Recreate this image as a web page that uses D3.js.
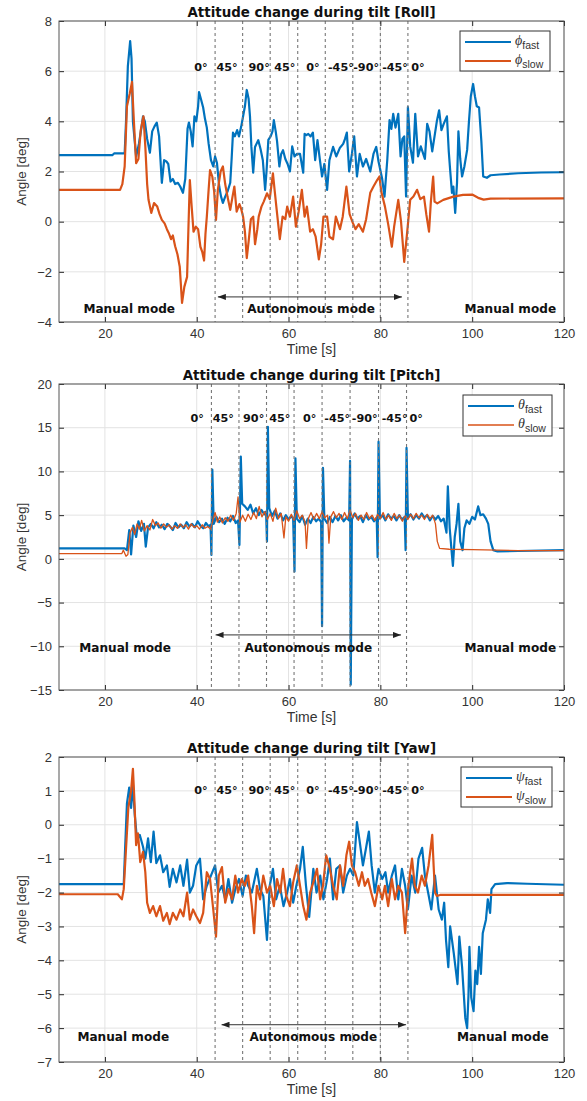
<!DOCTYPE html>
<html>
<head>
<meta charset="utf-8">
<script src="https://cdn.jsdelivr.net/npm/d3@7"></script>
<style>
  body { margin: 0; background: #fff; }
  svg { display: block; }
</style>
</head>
<body>
<svg id="chart"></svg>
<script>
// ---- data (time [s], angle [deg]) ----
const xTicks = [20, 40, 60, 80, 100, 120];
const angleLabels = ['0°', '45°', '90°', '45°', '0°', '-45°', '-90°', '-45°', '0°'];
const modeLabels = ['Manual mode', 'Autonomous mode', 'Manual mode'];

// roll
const rollTicks = [-4, -2, 0, 2, 4, 6, 8];
const rollSwitch = [44, 50, 56, 62, 68, 74, 80, 86];
const rollLabelT = [40.9, 46.6, 53.6, 59.2, 65.3, 71.4, 76.9, 83.2, 88.2];
const rollFast = [[10,2.65],[21.6,2.65],[22,2.72],[24.3,2.72],[24.6,4.0],[25,6.2],[25.5,7.2],[25.8,6.5],[26.1,4.0],[26.5,3.2],[26.8,2.6],[27.4,3.1],[28,3.8],[28.3,4.2],[28.7,4.0],[29.2,3.3],[29.8,2.75],[30.3,3.6],[30.8,3.8],[31.3,3.95],[31.8,3.4],[32.4,1.55],[32.9,2.45],[33.4,2.4],[33.8,2.3],[34.3,1.6],[34.8,1.7],[35.3,1.5],[35.9,1.55],[36.4,1.4],[37,1.15],[37.5,1.7],[38,3.7],[38.3,3.95],[38.7,3.6],[39.1,3.0],[39.5,4.2],[39.9,4.0],[40.3,4.6],[40.5,5.17],[40.9,4.9],[41.4,4.55],[41.8,4.1],[42.2,3.75],[42.6,3.1],[43.1,2.45],[43.6,2.2],[44,2.6],[44.4,2.35],[44.9,1.4],[45.3,1.0],[45.7,0.75],[46.2,1.0],[46.7,1.2],[47.3,1.55],[47.6,2.5],[47.9,3.55],[48.3,3.4],[48.8,3.65],[49.2,3.4],[49.7,3.8],[50.1,4.2],[50.5,4.6],[50.9,5.25],[51.3,4.9],[51.6,4.2],[51.9,3.0],[52.3,1.95],[52.7,2.98],[53.4,3.25],[53.9,2.9],[54.4,2.45],[54.9,1.27],[55.2,2.0],[55.6,3.26],[56.1,3.4],[56.5,3.6],[56.8,4.05],[57.2,3.6],[57.5,3.2],[58,2.2],[58.4,2.7],[58.8,2.85],[59.3,2.5],[59.8,2.3],[60.3,2.0],[60.8,3.0],[61.3,2.6],[61.8,2.7],[62.5,2.7],[63.2,1.95],[63.5,3.5],[63.9,3.45],[64.3,3.5],[64.8,3.4],[65.3,3.55],[65.8,2.45],[66.3,3.25],[66.8,2.5],[67.3,1.8],[67.8,2.3],[68.4,1.27],[68.9,2.45],[69.7,2.98],[70.4,2.6],[71.2,2.95],[71.9,3.1],[72.3,3.3],[72.7,3.55],[73.2,2.0],[73.8,2.7],[74.3,3.4],[74.9,1.8],[75.5,2.7],[76.2,2.2],[76.9,2.5],[77.8,2.0],[78.5,2.7],[79.1,2.98],[79.6,2.4],[80.4,1.7],[80.9,1.0],[81.5,2.45],[82,4.05],[82.4,3.7],[82.8,4.3],[83.3,3.75],[83.9,4.3],[84.4,2.6],[84.8,3.3],[85.2,3.4],[85.6,1.0],[86,4.57],[86.5,3.0],[87.1,2.35],[87.6,4.3],[88.2,2.6],[88.8,3.0],[89.7,2.5],[90.2,3.9],[90.7,3.6],[91.3,2.8],[91.8,3.4],[92.3,4.0],[92.8,4.44],[93.3,3.65],[93.8,3.9],[94.5,4.2],[94.9,2.8],[95.2,2.06],[95.6,1.15],[95.9,1.4],[96.3,0.35],[96.7,1.55],[97,3.6],[97.4,2.5],[97.8,1.8],[98.3,2.2],[98.9,2.86],[99.3,4.0],[99.7,5.0],[100.2,5.49],[100.6,5.0],[101,4.6],[101.5,4.55],[102,3.2],[102.4,1.8],[103.2,1.75],[104,1.85],[106,1.88],[110,1.93],[115,1.96],[120,1.97]];
const rollSlow = [[10,1.27],[23.3,1.27],[23.8,1.5],[24.3,2.2],[24.8,4.6],[25.4,5.1],[25.9,5.57],[26.3,4.05],[26.8,2.33],[27.3,2.5],[27.8,3.65],[28.4,4.2],[28.8,3.0],[29.2,1.5],[29.5,0.87],[30.1,0.35],[30.7,0.74],[31.4,0.6],[31.9,0.3],[32.4,0.07],[33,-0.07],[33.5,-0.3],[33.9,-0.45],[34.4,-0.7],[34.8,-0.55],[35.3,-0.98],[35.8,-1.3],[36.3,-1.8],[36.8,-3.24],[37.3,-2.6],[37.9,-2.2],[38.2,-0.2],[38.5,1.66],[38.9,0.6],[39.3,-0.4],[39.8,-0.2],[40.3,-0.3],[40.8,-1.0],[41.2,-1.2],[41.6,-1.55],[41.9,-0.5],[42.2,0.2],[42.6,1.3],[42.9,2.06],[43.4,1.8],[43.8,1.2],[44.2,0.07],[44.6,1.27],[45.2,2.0],[45.7,2.2],[46.2,1.5],[46.7,1.0],[47.3,0.47],[47.8,1.0],[48.2,1.4],[48.7,0.4],[49.3,0.7],[49.7,0.5],[50.1,0.2],[50.5,-0.4],[50.9,-1.45],[51.3,-0.8],[51.8,0.1],[52.3,0.2],[52.7,-0.9],[53.2,-0.3],[53.5,0.2],[54.1,0.6],[54.6,0.8],[55.3,1.13],[55.9,0.9],[56.6,1.93],[57,1.2],[57.4,0.5],[58.1,-0.7],[58.7,0.2],[59.3,0.1],[59.7,0.6],[60.3,0.2],[61,1.0],[61.6,-0.2],[62.2,0.4],[62.9,1.27],[63.5,0.2],[64,0.6],[64.7,-0.4],[65.3,-0.3],[65.9,-0.6],[66.6,-1.5],[67.1,-0.9],[67.6,0.2],[68.4,0.2],[68.9,-0.6],[69.7,-0.7],[70.3,0.2],[71.2,-0.3],[71.8,0.2],[72.6,1.4],[73.3,0.3],[74,-0.05],[74.6,-0.3],[75.3,-0.1],[76.2,-0.4],[76.9,0.1],[77.8,1.15],[78.5,1.4],[79.3,1.66],[79.8,1.8],[80.2,1.2],[81,0.6],[81.7,-0.1],[82.5,-1.0],[83,-0.2],[83.9,0.87],[84.5,0.0],[85.2,-1.6],[85.8,-0.5],[86.5,0.87],[87.2,1.0],[88,1.27],[88.7,0.9],[89.5,1.0],[90,0.3],[90.6,-0.4],[91,0.8],[91.5,1.8],[91.8,0.8],[92.4,0.73],[93.7,0.87],[95.9,1.0],[98,1.07],[100,1.08],[101.3,0.95],[102.5,0.88],[104,0.92],[120,0.93]];

// pitch
const pitchTicks = [-15, -10, -5, 0, 5, 10, 15, 20];
const pitchSwitch = [43.2, 49.2, 55.2, 61.2, 67.3, 73.4, 79.6, 85.7];
const pitchLabelT = [40.1, 45.8, 52.4, 58.1, 64.6, 70.6, 76.6, 83.1, 87.8];
const pitchFast = [[10,1.2],[24.3,1.2],[24.8,1.0],[25.3,3.3],[25.7,0.5],[26.2,3.8],[26.8,2.5],[27.3,4.3],[27.9,3.2],[28.5,4.0],[28.9,1.4],[29.4,3.6],[30,4.0],[30.6,3.5],[31.2,4.2],[31.8,3.6],[32.4,3.9],[33,3.4],[33.6,4.0],[34.2,3.7],[34.8,3.3],[35.4,4.1],[36,3.6],[36.6,3.9],[37.2,3.5],[37.8,4.2],[38.4,3.7],[39,4.0],[39.6,3.6],[40.2,4.3],[40.8,3.8],[41.4,3.5],[42,4.1],[42.6,3.7],[43,3.9],[43.2,0.45],[43.4,10.2],[43.7,4.0],[44.3,4.8],[44.9,4.2],[45.5,4.6],[46.1,4.0],[46.7,4.7],[47.3,4.3],[47.9,4.9],[48.5,4.1],[49,4.4],[49.3,1.6],[49.6,11.7],[49.9,6.3],[50.5,6.0],[51.1,5.6],[51.7,6.2],[52.3,5.2],[52.9,5.8],[53.5,5.0],[54.1,5.6],[54.7,5.1],[55.1,5.4],[55.3,2.0],[55.5,15.1],[55.8,5.8],[56.4,4.9],[57,5.5],[57.6,4.6],[58.2,5.2],[58.8,4.4],[59.4,5.0],[60,4.5],[60.6,4.9],[61,4.6],[61.3,-1.45],[61.5,11.5],[61.8,4.6],[62.4,4.2],[63,4.9],[63.6,3.9],[64.2,4.6],[64.8,4.1],[65.4,4.8],[66,4.3],[66.6,4.6],[67.1,4.2],[67.3,-7.7],[67.5,10.4],[67.8,4.6],[68.4,4.1],[69,4.8],[69.6,4.2],[70.2,4.9],[70.8,4.4],[71.4,5.0],[72,4.3],[72.6,4.7],[73.2,4.4],[73.4,11.2],[73.55,-14.4],[73.8,4.5],[74.4,5.2],[75,4.6],[75.6,4.9],[76.2,4.2],[76.8,5.0],[77.4,4.5],[78,4.8],[78.6,4.3],[79.2,4.7],[79.4,0.2],[79.6,13.4],[79.9,4.6],[80.5,5.0],[81.1,4.4],[81.7,5.1],[82.3,4.6],[82.9,4.9],[83.5,4.4],[84.1,5.0],[84.7,4.5],[85.3,4.8],[85.5,1.0],[85.7,12.7],[86,4.7],[86.6,5.1],[87.2,4.5],[87.8,5.0],[88.4,4.6],[89,5.2],[89.6,4.7],[90.2,5.0],[90.8,4.4],[91.4,4.9],[92,4.5],[92.6,4.9],[93.2,4.3],[93.8,4.6],[94.4,3.0],[94.7,8.3],[95.1,3.5],[95.5,1.0],[95.8,-0.8],[96.2,2.5],[96.6,4.0],[97,6.3],[97.4,2.0],[97.9,1.0],[98.3,3.5],[98.8,4.4],[99.4,4.0],[100,4.8],[100.6,4.5],[101.3,6.0],[101.8,5.0],[102.4,5.1],[103,4.6],[103.5,4.0],[104,2.0],[104.6,1.0],[105.5,0.85],[110,0.9],[120,1.0]];
const pitchSlow = [[10,0.6],[23.7,0.6],[24,1.0],[24.6,0.3],[25,0.5],[25.5,3.0],[26,3.6],[26.5,2.8],[27,4.0],[27.5,3.4],[28,4.4],[28.6,3.2],[29.2,3.8],[29.8,3.3],[30.4,4.5],[31,3.8],[31.6,4.1],[32.2,3.5],[32.8,4.0],[33.4,3.6],[34,3.9],[34.6,3.4],[35.2,3.8],[35.8,3.5],[36.4,4.0],[37,3.6],[37.6,3.9],[38.2,3.4],[38.8,4.0],[39.4,3.6],[40,3.8],[40.6,3.4],[41.2,3.9],[41.8,3.5],[42.4,3.7],[43,3.4],[43.6,4.6],[44,5.3],[44.5,4.2],[45,4.8],[45.6,4.1],[46.2,4.7],[46.8,4.3],[47.4,5.0],[48,4.4],[48.6,5.2],[49,7.1],[49.4,4.2],[50,5.0],[50.6,4.3],[51.2,5.1],[51.8,4.5],[52.4,5.3],[53,4.6],[53.6,6.0],[54.2,4.8],[54.8,5.4],[55.4,4.5],[56,5.2],[56.6,4.3],[57.2,5.8],[57.8,4.6],[58.4,5.2],[59,2.4],[59.4,4.8],[60,4.3],[60.6,5.1],[61.2,4.4],[61.8,5.5],[62.4,4.6],[63,5.0],[63.6,4.2],[63.9,1.2],[64.3,4.6],[64.9,5.3],[65.5,4.5],[66.1,5.2],[66.7,4.6],[67.3,5.4],[67.9,4.7],[68.5,5.0],[68.8,1.8],[69.2,4.8],[69.8,5.4],[70.4,4.7],[71,5.2],[71.6,4.5],[72.2,5.3],[72.8,4.6],[73.4,5.6],[74,4.7],[74.6,5.2],[75.2,4.4],[75.8,5.0],[76.4,4.5],[77,5.3],[77.6,4.6],[78.2,5.0],[78.8,4.4],[79.4,5.1],[80,4.6],[80.6,5.3],[81.2,4.5],[81.8,5.0],[82.4,4.4],[83,5.2],[83.6,4.6],[84.2,5.0],[84.8,4.3],[85.4,4.9],[86,4.5],[86.6,5.1],[87.2,4.6],[87.8,5.2],[88.4,4.7],[89,5.0],[89.6,4.5],[90.2,5.1],[90.8,4.6],[91.4,5.0],[92,4.0],[92.4,2.0],[92.9,1.2],[95,1.1],[100,1.05],[110,0.95],[120,0.95]];

// yaw
const yawTicks = [-7, -6, -5, -4, -3, -2, -1, 0, 1, 2];
const yawSwitch = [44, 50, 56, 62, 68, 74, 80, 86];
const yawLabelT = [40.9, 46.6, 53.6, 59.2, 65.3, 71.4, 76.9, 83.2, 88.2];
const yawFast = [[10,-1.75],[24.1,-1.75],[24.4,-0.7],[24.8,0.63],[25.3,1.1],[25.7,0.5],[26.1,1.2],[26.5,0.3],[27,-0.45],[27.6,-0.3],[28.3,-0.65],[28.8,-1.0],[29.4,-0.4],[30,-1.1],[30.6,-0.2],[31.2,-1.13],[32,-0.9],[32.7,-1.4],[33.5,-1.2],[34.1,-1.83],[34.8,-1.3],[35.6,-1.7],[36.4,-1.2],[37.1,-1.8],[37.9,-1.03],[38.5,-2.0],[39.2,-1.8],[39.9,-1.2],[40.7,-1.0],[41.4,-2.2],[42.2,-1.8],[43.1,-1.5],[44,-1.2],[44.7,-2.0],[45.5,-1.8],[46.2,-2.2],[46.9,-1.6],[47.7,-2.3],[48.4,-1.9],[49.2,-1.6],[50,-2.1],[50.7,-1.5],[51.2,-1.8],[52,-2.0],[53.1,-1.3],[53.8,-1.9],[54.5,-2.1],[55.3,-3.4],[55.9,-1.8],[56.6,-1.3],[57.3,-2.2],[58.1,-1.8],[58.9,-2.4],[59.7,-2.0],[60.3,-1.6],[61,-2.3],[61.7,-1.8],[62.5,-1.3],[63.1,-0.65],[63.8,-1.8],[64.5,-2.72],[65.4,-1.3],[66.1,-2.0],[66.9,-1.5],[67.6,-2.2],[68.4,-1.6],[69,-1.0],[69.7,-2.2],[70.4,-1.3],[71.2,-1.2],[71.9,-2.0],[72.7,-1.5],[73.4,-1.3],[74.1,-1.5],[74.9,0.08],[75.5,-0.5],[76.2,-1.2],[76.9,-0.67],[77.5,-0.2],[78.1,-1.2],[78.8,-2.0],[79.6,-1.3],[80.4,-1.6],[81.1,-1.4],[81.7,-2.0],[82.5,-1.5],[83.2,-1.2],[83.9,-2.2],[84.7,-1.3],[85.4,-1.8],[86,-2.5],[86.8,-1.5],[87.6,-2.0],[88.3,-1.0],[89.1,-0.68],[89.7,-1.5],[90.4,-2.0],[91.1,-2.5],[91.9,-1.5],[92.7,-2.5],[93.4,-2.8],[93.9,-2.3],[94.3,-3.4],[94.8,-4.2],[95.2,-3.0],[96,-3.8],[96.8,-4.7],[97.2,-3.3],[97.8,-4.2],[98.5,-5.7],[98.9,-6.0],[99.2,-5.0],[99.4,-3.6],[99.8,-5.1],[100.3,-5.5],[100.7,-4.3],[101.1,-4.7],[101.5,-3.6],[101.9,-4.4],[102.3,-3.2],[103,-2.8],[103.4,-2.2],[103.9,-2.6],[104.2,-1.9],[105,-1.75],[107.6,-1.72],[112,-1.74],[120,-1.77]];
const yawSlow = [[10,-2.05],[22.8,-2.05],[23.7,-2.2],[24.1,-1.9],[24.6,-0.7],[25.1,0.5],[25.7,1.0],[26.1,1.65],[26.4,0.8],[26.8,-0.6],[27.2,-0.25],[27.7,-1.1],[28.3,-0.8],[28.8,-1.4],[29.2,-2.3],[29.8,-2.6],[30.5,-2.4],[31.2,-2.7],[32,-2.4],[32.7,-2.83],[33.5,-2.6],[34.1,-2.93],[34.8,-2.6],[35.6,-2.8],[36.4,-2.5],[37.1,-2.7],[37.9,-2.0],[38.5,-2.8],[39.2,-2.5],[39.9,-2.7],[40.7,-2.9],[41.4,-2.6],[42.2,-1.4],[42.9,-1.6],[43.6,-2.5],[44.2,-3.3],[44.8,-1.5],[45.5,-1.25],[46.2,-2.3],[46.9,-1.9],[47.7,-2.2],[48.4,-1.5],[49,-2.0],[49.8,-1.6],[50.5,-1.8],[51.2,-1.5],[52,-2.4],[52.5,-3.2],[53.1,-1.8],[53.8,-2.2],[54.5,-1.5],[55.3,-2.0],[56,-1.8],[56.8,-2.4],[57.5,-1.6],[58.2,-2.0],[58.8,-1.3],[59.5,-2.1],[60.3,-2.4],[61,-1.7],[61.8,-1.2],[62.5,-1.8],[63.2,-2.4],[63.9,-2.8],[64.7,-2.0],[65.4,-1.7],[66.2,-1.3],[66.9,-2.2],[67.5,-1.8],[68.2,-0.9],[69,-1.3],[69.7,-1.8],[70.5,-2.2],[71.2,-1.2],[71.9,-1.8],[72.6,-0.9],[73.2,-0.5],[73.8,-1.2],[74.5,-1.4],[75.3,-1.8],[76,-1.4],[76.6,-1.8],[77.3,-1.6],[78,-2.0],[78.8,-2.4],[79.6,-1.8],[80.4,-2.2],[81,-1.8],[81.7,-2.4],[82.5,-1.6],[83.2,-2.2],[83.9,-1.8],[84.7,-2.0],[85.4,-3.2],[86.1,-1.8],[86.9,-1.0],[87.5,-1.8],[88.2,-2.0],[89,-1.5],[89.7,-1.8],[90.5,-1.2],[91.3,-0.3],[91.6,-1.2],[91.9,-2.0],[92.3,-2.1],[93,-2.07],[120,-2.07]];

// ---- layout ----
const W = 587, H = 1101;
const left = 59, right = 564;
const blue = '#0072BD', orange = '#D95319', axisCol = '#262626';

const panels = [
  { name: 'Roll', sym: 'ϕ', top: 21, bottom: 322, yDom: [-4, 8], yTicks: rollTicks,
    fast: rollFast, slow: rollSlow, sw: rollSwitch, labelT: rollLabelT, labelV: 6.0,
    modeT: [25.3, 64.9, 108.3], modeV: -3.64, arrowV: -3, arrowT: [44.6, 84.7],
    leg: { x: 460, y: 31, w: 90, h: 40 }, slowW: 2.2 },
  { name: 'Pitch', sym: 'θ', top: 384, bottom: 690, yDom: [-15, 20], yTicks: pitchTicks,
    fast: pitchFast, slow: pitchSlow, sw: pitchSwitch, labelT: pitchLabelT, labelV: 15.7,
    modeT: [24.4, 64.3, 108.3], modeV: -10.66, arrowV: -8.7, arrowT: [44.1, 84.5],
    leg: { x: 463, y: 395, w: 89, h: 41 }, slowW: 1.3 },
  { name: 'Yaw', sym: 'ψ', top: 757, bottom: 1062, yDom: [-7, 2], yTicks: yawTicks,
    fast: yawFast, slow: yawSlow, sw: yawSwitch, labelT: yawLabelT, labelV: 0.9,
    modeT: [24.0, 65.4, 106.7], modeV: -6.38, arrowV: -5.9, arrowT: [45.4, 85.6],
    leg: { x: 461, y: 767, w: 91, h: 40 }, slowW: 2.2 }
];

const svg = d3.select('#chart').attr('width', W).attr('height', H)
  .style('background', '#fff');

const defs = svg.append('defs');
defs.append('marker')
  .attr('id', 'arrow')
  .attr('viewBox', '0 0 8 6')
  .attr('refX', 8).attr('refY', 3)
  .attr('markerWidth', 8).attr('markerHeight', 6)
  .attr('markerUnits', 'userSpaceOnUse')
  .attr('orient', 'auto-start-reverse')
  .append('path').attr('d', 'M0,0 L8,3 L0,6 Z').attr('fill', '#222');

const x = d3.scaleLinear().domain([10, 120]).range([left, right]);
const bold = '"DejaVu Sans", Verdana, sans-serif';
const plain = '"Liberation Sans", Arial, sans-serif';

panels.forEach((p, i) => {
  const y = d3.scaleLinear().domain(p.yDom).range([p.bottom, p.top]);
  const g = svg.append('g');

  defs.append('clipPath').attr('id', 'clip' + i)
    .append('rect').attr('x', left).attr('y', p.top)
    .attr('width', right - left).attr('height', p.bottom - p.top);

  // grid
  g.selectAll('.gx').data(xTicks).join('line')
    .attr('x1', d => x(d)).attr('x2', d => x(d))
    .attr('y1', p.top).attr('y2', p.bottom)
    .attr('stroke', '#e3e3e3').attr('stroke-width', 1);
  g.selectAll('.gy').data(p.yTicks).join('line')
    .attr('x1', left).attr('x2', right)
    .attr('y1', d => y(d)).attr('y2', d => y(d))
    .attr('stroke', '#e3e3e3').attr('stroke-width', 1);

  // data
  const line = d3.line().x(d => x(d[0])).y(d => y(d[1]));
  const lines = g.append('g').attr('clip-path', `url(#clip${i})`);
  lines.append('path').datum(p.fast)
    .attr('fill', 'none').attr('stroke', blue).attr('stroke-width', 2.2)
    .attr('stroke-linejoin', 'round').attr('d', line);
  lines.append('path').datum(p.slow)
    .attr('fill', 'none').attr('stroke', orange).attr('stroke-width', p.slowW)
    .attr('stroke-linejoin', 'round').attr('d', line);

  // switching instants
  g.selectAll('.sw').data(p.sw).join('line')
    .attr('x1', d => x(d)).attr('x2', d => x(d))
    .attr('y1', p.top).attr('y2', p.bottom)
    .attr('stroke', '#777').attr('stroke-width', 1.1)
    .attr('stroke-dasharray', '3,3');

  // axes (ticks inside, box on)
  const ax = g.append('g').attr('color', axisCol).style('font-family', plain);
  ax.append('g').attr('transform', `translate(0,${p.bottom})`)
    .call(d3.axisBottom(x).tickValues(xTicks).tickSizeInner(-5).tickSizeOuter(0).tickPadding(7))
    .call(a => a.selectAll('text').attr('font-size', 13).attr('fill', '#333'));
  ax.append('g').attr('transform', `translate(0,${p.top})`)
    .call(d3.axisTop(x).tickValues(xTicks).tickSizeInner(-5).tickSizeOuter(0).tickFormat(''));
  ax.append('g').attr('transform', `translate(${left},0)`)
    .call(d3.axisLeft(y).tickValues(p.yTicks).tickSizeInner(-5).tickSizeOuter(0).tickPadding(7))
    .call(a => a.selectAll('text').attr('font-size', 13).attr('fill', '#333'));
  ax.append('g').attr('transform', `translate(${right},0)`)
    .call(d3.axisRight(y).tickValues(p.yTicks).tickSizeInner(-5).tickSizeOuter(0).tickFormat(''));
  ax.selectAll('.domain').remove();
  g.append('rect').attr('x', left).attr('y', p.top)
    .attr('width', right - left).attr('height', p.bottom - p.top)
    .attr('fill', 'none').attr('stroke', '#555').attr('stroke-width', 1);

  // title and axis labels
  g.append('text').attr('x', (left + right) / 2).attr('y', p.top - 4)
    .attr('text-anchor', 'middle').attr('font-family', bold)
    .attr('font-weight', 'bold').attr('font-size', 13.4).attr('fill', '#111')
    .text(`Attitude change during tilt [${p.name}]`);
  g.append('text').attr('x', (left + right) / 2).attr('y', p.bottom + 32)
    .attr('text-anchor', 'middle').attr('font-family', plain)
    .attr('font-size', 14).attr('fill', '#333').text('Time [s]');
  g.append('text')
    .attr('transform', `translate(26,${(p.top + p.bottom) / 2}) rotate(-90)`)
    .attr('text-anchor', 'middle').attr('font-family', plain)
    .attr('font-size', 13.5).attr('fill', '#333').text('Angle [deg]');

  // annotations
  g.selectAll('.al').data(angleLabels).join('text')
    .attr('x', (d, k) => x(p.labelT[k])).attr('y', y(p.labelV))
    .attr('text-anchor', 'middle').attr('font-family', bold).attr('font-weight', 'bold')
    .attr('font-size', 11.2).attr('fill', '#111').text(d => d);
  g.selectAll('.ml').data(modeLabels).join('text')
    .attr('x', (d, k) => x(p.modeT[k])).attr('y', y(p.modeV))
    .attr('text-anchor', 'middle').attr('font-family', bold).attr('font-weight', 'bold')
    .attr('font-size', 12.1).attr('fill', '#111').text(d => d);
  g.append('line')
    .attr('x1', x(p.arrowT[0])).attr('x2', x(p.arrowT[1]))
    .attr('y1', y(p.arrowV)).attr('y2', y(p.arrowV))
    .attr('stroke', '#333').attr('stroke-width', 1)
    .attr('marker-start', 'url(#arrow)').attr('marker-end', 'url(#arrow)');

  // legend
  const lg = g.append('g').attr('transform', `translate(${p.leg.x},${p.leg.y})`);
  lg.append('rect').attr('width', p.leg.w).attr('height', p.leg.h)
    .attr('fill', '#fff').attr('stroke', '#333').attr('stroke-width', 1);
  [['fast', blue, 2.2], ['slow', orange, p.slowW]].forEach(([sub, col, sw], k) => {
    const ly = 11 + k * 19;
    lg.append('line').attr('x1', 5).attr('x2', 51).attr('y1', ly).attr('y2', ly)
      .attr('stroke', col).attr('stroke-width', sw);
    const t = lg.append('text').attr('x', 55).attr('y', ly + 3)
      .attr('fill', '#333').attr('font-family', '"Liberation Serif", serif');
    t.append('tspan').attr('font-size', 14).attr('font-style', 'italic').text(p.sym);
    t.append('tspan').attr('font-size', 10.5).attr('dy', 4)
      .attr('font-family', plain).text(sub);
  });
});
</script>
</body>
</html>
